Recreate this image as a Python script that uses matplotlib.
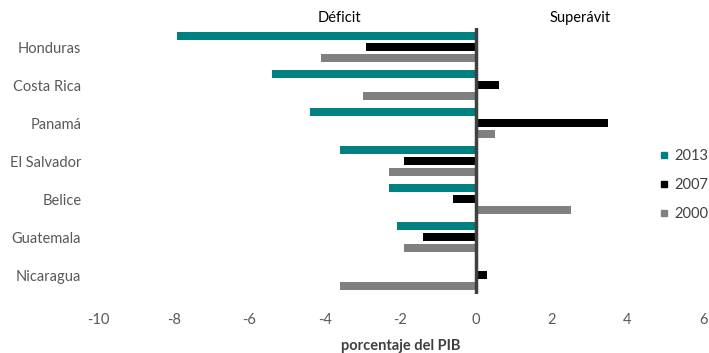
import numpy as np
import matplotlib.pyplot as plt
from matplotlib.lines import Line2D

plt.rcParams['font.family'] = ['Lato', 'DejaVu Sans']
plt.rcParams['axes.unicode_minus'] = False

# data (porcentaje del PIB)
paises = ['Honduras', 'Costa Rica', 'Panamá', 'El Salvador', 'Belice', 'Guatemala', 'Nicaragua']
anios = ['2013', '2007', '2000']
v2013 = [-7.9, -5.4, -4.4, -3.6, -2.3, -2.1, 0.0]
v2007 = [-2.9, 0.6, 3.5, -1.9, -0.6, -1.4, 0.3]
v2000 = [-4.1, -3.0, 0.5, -2.3, 2.5, -1.9, -3.6]
colores = ['#008080', '#000000', '#808080']
xticks = [-10, -8, -6, -4, -2, 0, 2, 4, 6]

fig = plt.figure(figsize=(7.09, 3.53), dpi=100)
ax = fig.add_axes([98 / 709, 1 - 294 / 353, 605 / 709, 266 / 353])

y = np.arange(len(paises))
pitch = 0.28
h = 0.21
for i, (vals, col) in enumerate(zip([v2013, v2007, v2000], colores)):
    ax.barh(y + (i - 1) * pitch, vals, height=h, color=col, label=anios[i])

ax.axvline(0, color='#404040', lw=2.5)
ax.set_xlim(-10, 6)
ax.set_ylim(len(paises) - 0.5, -0.5)
ax.set_yticks(y)
ax.set_yticklabels(paises)
ax.set_xticks(xticks)
ax.tick_params(length=0, labelsize=10.5, labelcolor='#595959')
ax.tick_params(axis='x', pad=14)
ax.tick_params(axis='y', pad=12)
for s in ax.spines.values():
    s.set_visible(False)

ax.set_xlabel('porcentaje del PIB', fontsize=10.5, fontweight='bold', color='#404040', labelpad=8)

tr = ax.get_xaxis_transform()
ax.text(-3.62, 1.038, 'Déficit', transform=tr, ha='center', va='center', fontsize=10.5, color='#000000')
ax.text(2.75, 1.038, 'Superávit', transform=tr, ha='center', va='center', fontsize=10.5, color='#000000')

handles = [Line2D([], [], marker='s', ls='', color=c, markersize=5) for c in colores]
fig.legend(handles, anios, loc='center left', bbox_to_anchor=(658 / 709, 1 - 185 / 353),
           frameon=False, fontsize=10.5, labelcolor='#404040', handlelength=0.8,
           handletextpad=0.3, labelspacing=1.05, borderpad=0, borderaxespad=0)

fig.savefig('out.png', dpi=100)
